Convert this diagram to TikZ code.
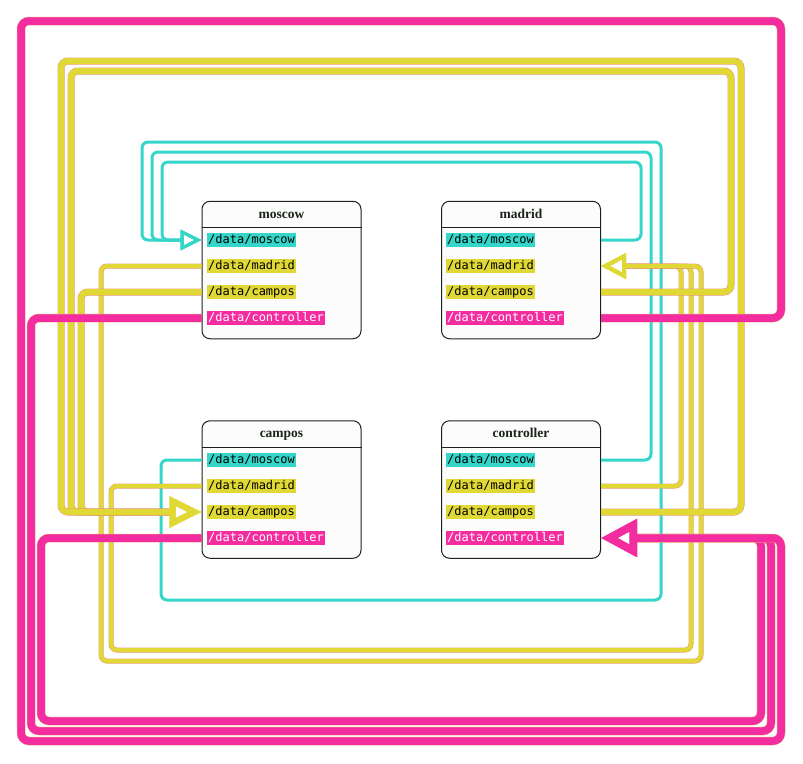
\documentclass[tikz,border=0pt]{standalone}
\usepackage{fontspec}
\newfontfamily\rowfont{DejaVu Sans Mono}
\newfontfamily\titlefont{Liberation Serif}
\usetikzlibrary{arrows.meta}
\definecolor{wirecyan}{HTML}{33D6C9}
\definecolor{wireyellow}{HTML}{E0D834}
\definecolor{wiremagenta}{HTML}{F32CA0}
\definecolor{wireedge}{HTML}{E8977A}
\definecolor{boxline}{HTML}{1A2418}
\definecolor{boxfill}{HTML}{FCFCFC}
\tikzset{
  box/.style={draw=boxline, fill=boxfill, line width=1pt, rounded corners=8pt,
    minimum width=159pt, minimum height=137.5pt, inner sep=0pt},
  boxtitle/.style={anchor=base, font=\titlefont\fontsize{13.5}{16}\selectfont\bfseries, text=boxline},
  header/.style={draw=boxline, line width=1pt},
  row/.style={anchor=west, inner sep=1pt, text height=9.5pt, text depth=3pt,
    font=\rowfont\fontsize{12}{14}\selectfont},
  rowcyan/.style={row, fill=wirecyan},
  rowyellow/.style={row, fill=wireyellow},
  rowmagenta/.style={row, fill=wiremagenta, text=white},
  topicmoscow/.style={draw=wirecyan, line width=3pt, rounded corners=6pt,
    -{Triangle[open, length=21pt, width=20pt]}},
  topicmadrid/.style={draw=wireyellow, line width=4pt, rounded corners=6pt,
    preaction={draw=wireedge, line width=5pt, -, shorten >=24pt},
    -{Triangle[open, length=25pt, width=25pt]}},
  topiccampos/.style={draw=wireyellow, line width=6pt, rounded corners=7pt,
    preaction={draw=wireedge, line width=7pt, -, shorten >=31pt},
    -{Triangle[open, length=32pt, width=30pt]}},
  topiccontroller/.style={draw=wiremagenta, line width=7.5pt, rounded corners=8pt,
    preaction={draw=wireedge, line width=8.5pt, -, shorten >=35pt},
    -{Triangle[open, length=36pt, width=36pt]}},
}
\begin{document}
\begin{tikzpicture}[x=1pt, y=-1pt]
  \useasboundingbox (0,0) rectangle (803,763);

  % the four stations
  \node[box] (moscow) at (281.5,270) {};
  \node[box] (madrid) at (521,270) {};
  \node[box] (campos) at (281.5,489.5) {};
  \node[box] (controller) at (521,489.5) {};
  \node[boxtitle] (moscow-title) at ([yshift=-17.5pt]moscow.north) {moscow};
  \node[boxtitle] (madrid-title) at ([yshift=-17.5pt]madrid.north) {madrid};
  \node[boxtitle] (campos-title) at ([yshift=-17.5pt]campos.north) {campos};
  \node[boxtitle] (controller-title) at ([yshift=-17.5pt]controller.north) {controller};
  \draw[header] ([yshift=-27pt]moscow.north west) -- ([yshift=-27pt]moscow.north east);
  \draw[header] ([yshift=-27pt]madrid.north west) -- ([yshift=-27pt]madrid.north east);
  \draw[header] ([yshift=-27pt]campos.north west) -- ([yshift=-27pt]campos.north east);
  \draw[header] ([yshift=-27pt]controller.north west) -- ([yshift=-27pt]controller.north east);

  \node[rowcyan] (moscow-moscow) at (207,240) {/data/moscow};
  \node[rowyellow] (moscow-madrid) at (207,266) {/data/madrid};
  \node[rowyellow] (moscow-campos) at (207,292) {/data/campos};
  \node[rowmagenta] (moscow-controller) at (207,318) {/data/controller};
  \node[rowcyan] (madrid-moscow) at (446,240) {/data/moscow};
  \node[rowyellow] (madrid-madrid) at (446,266) {/data/madrid};
  \node[rowyellow] (madrid-campos) at (446,292) {/data/campos};
  \node[rowmagenta] (madrid-controller) at (446,318) {/data/controller};
  \node[rowcyan] (campos-moscow) at (207,460) {/data/moscow};
  \node[rowyellow] (campos-madrid) at (207,486) {/data/madrid};
  \node[rowyellow] (campos-campos) at (207,512) {/data/campos};
  \node[rowmagenta] (campos-controller) at (207,538) {/data/controller};
  \node[rowcyan] (controller-moscow) at (446,460) {/data/moscow};
  \node[rowyellow] (controller-madrid) at (446,486) {/data/madrid};
  \node[rowyellow] (controller-campos) at (446,512) {/data/campos};
  \node[rowmagenta] (controller-controller) at (446,538) {/data/controller};

  % /data/moscow
  \draw[topicmoscow] (madrid.east |- madrid-moscow) -| (641,162) -| (162,240) -- (moscow.west |- moscow-moscow);
  \draw[topicmoscow] (controller.east |- controller-moscow) -| (651,152) -| (152,240) -- (moscow.west |- moscow-moscow);
  \draw[topicmoscow] (campos.west |- campos-moscow) -| (161,600) -| (661,142) -| (142,240) -- (moscow.west |- moscow-moscow);

  % /data/madrid
  \draw[topicmadrid] (controller.east |- controller-madrid) -| (681,266) -- (madrid.east |- madrid-madrid);
  \draw[topicmadrid] (campos.west |- campos-madrid) -| (111,650) -| (691,266) -- (madrid.east |- madrid-madrid);
  \draw[topicmadrid] (moscow.west |- moscow-madrid) -| (101,661) -| (701,266) -- (madrid.east |- madrid-madrid);

  % /data/campos
  \draw[topiccampos] (moscow.west |- moscow-campos) -| (81,512) -- (campos.west |- campos-campos);
  \draw[topiccampos] (madrid.east |- madrid-campos) -| (731,71) -| (71,512) -- (campos.west |- campos-campos);
  \draw[topiccampos] (controller.east |- controller-campos) -| (741,61) -| (61,512) -- (campos.west |- campos-campos);

  % /data/controller
  \draw[topiccontroller] (campos.west |- campos-controller) -| (41,721) -| (761,538) -- (controller.east |- controller-controller);
  \draw[topiccontroller] (moscow.west |- moscow-controller) -| (31,731) -| (771,538) -- (controller.east |- controller-controller);
  \draw[topiccontroller] (madrid.east |- madrid-controller) -| (781,21) -| (21,741) -| (781,538) -- (controller.east |- controller-controller);

\end{tikzpicture}
\end{document}
